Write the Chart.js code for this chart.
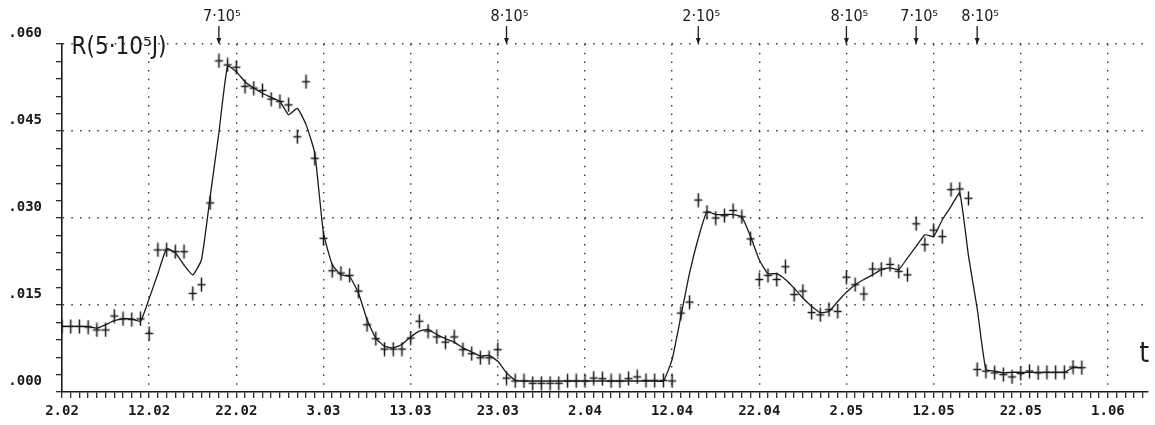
<!DOCTYPE html>
<html>
<head>
<meta charset="utf-8">
<script src="https://cdn.jsdelivr.net/npm/chart.js@4.4.0/dist/chart.umd.min.js"></script>
<style>
  html, body { margin: 0; padding: 0; background: #fff; }
  #wrap { width: 1155px; height: 425px; }
</style>
</head>
<body>
<div id="wrap"><canvas id="chart"></canvas></div>
<script>
// measured values, one per day starting 2.02 (index = day)
const measured = [
  .0113, .0113, .0113, .0112, .0107, .0107, .0131, .0126, .0125, .0126,
  .0101, .0245, .0245, .0242, .0242, .0170, .0185, .0326, .0571, .0564,
  .0560, .0527, .0524, .0520, .0505, .0501, .0495, .0440, .0535, .0403,
  .0265, .0209, .0205, .0201, .0174, .0116, .0092, .0074, .0074, .0074,
  .0093, .0122, .0105, .0095, .0086, .0095, .0073, .0066, .0059, .0059,
  .0073, .0024, .0019, .0019, .0015, .0015, .0015, .0015, .0019, .0019,
  .0019, .0024, .0023, .0019, .0019, .0023, .0026, .0020, .0020, .0020,
  .0019, .0136, .0155, .0331, .0310, .0300, .0304, .0313, .0302, .0264,
  .0194, .0201, .0194, .0216, .0168, .0174, .0137, .0133, .0142, .0139,
  .0198, .0185, .0169, .0212, .0212, .0220, .0208, .0202, .0290, .0254,
  .0279, .0268, .0349, .0350, .0334, .0039, .0036, .0033, .0030, .0026,
  .0032, .0036, .0033, .0034, .0034, .0034, .0043, .0042
];

// smoothed curve, same days
const smoothed = [
  .0113, .0113, .0113, .0113, .0110, .0116, .0123, .0126, .0126, .0122,
  .0161, .0204, .0247, .0240, .0219, .0202, .0228, .0337, .0447, .0562,
  .0552, .0535, .0524, .0515, .0508, .0501, .0478, .0489, .0461, .0412,
  .0274, .0220, .0202, .0199, .0171, .0125, .0093, .0079, .0076, .0082,
  .0095, .0105, .0108, .0099, .0092, .0086, .0076, .0069, .0062, .0063,
  .0053, .0033, .0020, .0019, .0019, .0019, .0019, .0019, .0019, .0019,
  .0019, .0019, .0019, .0019, .0019, .0019, .0019, .0019, .0019, .0019,
  .0056, .0130, .0205, .0265, .0311, .0306, .0306, .0306, .0302, .0268,
  .0228, .0204, .0204, .0194, .0179, .0162, .0148, .0137, .0139, .0156,
  .0172, .0185, .0194, .0202, .0211, .0214, .0211, .0231, .0251, .0271,
  .0268, .0297, .0320, .0343, .0235, .0144, .0039, .0036, .0033, .0034,
  .0034, .0034, .0034, .0034, .0034, .0034, .0042, .0042
];

const dateLabels = ['2.02', '12.02', '22.02', '3.03', '13.03', '23.03', '2.04',
  '12.04', '22.04', '2.05', '12.05', '22.05', '1.06'];

// arrows along the top
const markDays = [18, 51, 73, 90, 98, 105];
const markTexts = ['7·10⁵', '8·10⁵', '2·10⁵', '8·10⁵', '7·10⁵', '8·10⁵'];

const ink = '#1a1a1a';
const dots = '#3a3a3a';

function toXY(arr) {
  return arr.map((v, i) => ({ x: i, y: v }));
}

// plus sign with a longer vertical bar
const plus = document.createElement('canvas');
plus.width = 11;
plus.height = 15;
(function () {
  const c = plus.getContext('2d');
  c.strokeStyle = ink;
  c.lineWidth = 1.5;
  c.beginPath();
  c.moveTo(1.5, 7.5); c.lineTo(9.5, 7.5);
  c.moveTo(5.5, 0.5); c.lineTo(5.5, 14.5);
  c.stroke();
})();

const notes = {
  id: 'notes',
  afterDraw(chart) {
    const ctx = chart.ctx;
    const xs = chart.scales.x, ys = chart.scales.y;
    const top = ys.getPixelForValue(0.06);
    ctx.save();
    ctx.fillStyle = ink;
    ctx.strokeStyle = ink;
    ctx.lineWidth = 1.3;
    ctx.textAlign = 'center';
    ctx.textBaseline = 'alphabetic';
    ctx.font = '16px "Liberation Sans Narrow", "DejaVu Sans Condensed", sans-serif';
    markDays.forEach((d, i) => {
      const px = xs.getPixelForValue(d);
      ctx.fillText(markTexts[i], px + 3, 21);
      ctx.beginPath();
      ctx.moveTo(px, 26);
      ctx.lineTo(px, top - 1);
      ctx.stroke();
      ctx.beginPath();
      ctx.moveTo(px - 2.5, top - 6);
      ctx.lineTo(px, top);
      ctx.lineTo(px + 2.5, top - 6);
      ctx.closePath();
      ctx.fill();
    });

    ctx.textAlign = 'left';
    ctx.font = '24px "Liberation Sans Narrow", "DejaVu Sans Condensed", sans-serif';
    ctx.fillText('R(5·10⁵J)', xs.getPixelForValue(1.1), top + 10);

    ctx.font = '28px "Liberation Sans Narrow", "DejaVu Sans Condensed", sans-serif';
    ctx.fillText('t', xs.getPixelForValue(123.6), ys.getPixelForValue(0.0052));
    ctx.restore();
  }
};

new Chart(document.getElementById('chart'), {
  type: 'scatter',
  data: {
    datasets: [
      {
        label: 'fit',
        type: 'line',
        data: toXY(smoothed),
        borderColor: ink,
        borderWidth: 1.3,
        pointRadius: 0,
        tension: 0.15,
        fill: false,
        order: 2
      },
      {
        label: 'R',
        data: toXY(measured),
        pointStyle: plus,
        pointRadius: 6,
        order: 1
      }
    ]
  },
  options: {
    responsive: true,
    maintainAspectRatio: false,
    animation: false,
    layout: { padding: { top: 44, right: 5, left: 0, bottom: 0 } },
    plugins: {
      legend: { display: false },
      tooltip: { enabled: false }
    },
    scales: {
      x: {
        type: 'linear',
        min: 0,
        max: 124.6,
        afterFit: (scale) => { scale.height = 33; },
        border: { display: true, color: ink, width: 1.6, dash: [1.5, 7.2] },
        grid: {
          drawOnChartArea: true,
          color: (c) => (c.tick && c.tick.value % 10 === 0 && c.tick.value > 0) ? dots : 'rgba(0,0,0,0)',
          lineWidth: 1.4,
          tickColor: ink,
          tickBorderDash: [],
          tickLength: 6,
          tickWidth: 1.2
        },
        ticks: {
          stepSize: 1,
          autoSkip: false,
          maxRotation: 0,
          includeBounds: false,
          padding: 5,
          color: ink,
          font: { family: '"DejaVu Sans Mono", monospace', size: 14, weight: 'bold' },
          callback: (v) => (v % 10 === 0 ? dateLabels[v / 10] : '')
        }
      },
      y: {
        min: 0,
        max: 0.06,
        afterFit: (scale) => { scale.width = 62; },
        border: { display: true, color: ink, width: 1.6, dash: [1.5, 7.2] },
        grid: {
          color: (c) => {
            const k = Math.round(c.tick.value * 1000);
            return (k % 15 === 0 && k > 0) ? dots : 'rgba(0,0,0,0)';
          },
          lineWidth: 1.4,
          tickColor: ink,
          tickBorderDash: [],
          tickLength: 6,
          tickWidth: 1.2
        },
        ticks: {
          stepSize: 0.003,
          autoSkip: false,
          labelOffset: -11,
          padding: 14,
          color: ink,
          font: { family: '"DejaVu Sans Mono", monospace', size: 14, weight: 'bold' },
          callback: (v) => {
            const k = Math.round(v * 1000);
            return k % 15 === 0 ? '.' + String(k).padStart(3, '0') : '';
          }
        }
      }
    }
  },
  plugins: [notes]
});
</script>
</body>
</html>
